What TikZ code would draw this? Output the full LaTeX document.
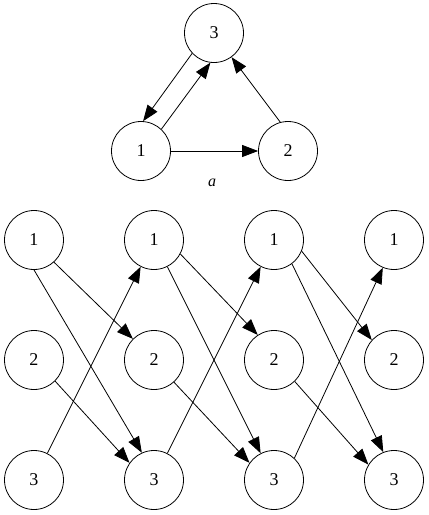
\documentclass[tikz,border=0pt]{standalone}
\usepackage{fontspec}
\setmainfont{Liberation Serif}
\usetikzlibrary{arrows.meta}
\begin{document}
\begin{tikzpicture}[x=1pt,y=-1pt,
  st/.style={circle,draw,line width=0.8pt,minimum size=59pt,inner sep=0pt,font=\fontsize{18}{18}\selectfont},
  arr/.style={line width=0.8pt,-{Triangle[length=16pt,width=12pt]}}]
\useasboundingbox (0,0) rectangle (429,515);
% top graph
\node[st] (t3) at (214,33) {3};
\node[st] (t1) at (141,151) {1};
\node[st] (t2) at (288,151) {2};
\node (lab) at (212,183) {\fontsize{16}{16}\selectfont\itshape a};
\draw[arr] (t3.223) -- (t1.86);
\draw[arr] (t1.47) -- (t3.-97);
\draw[arr] (t1) -- (t2);
\draw[arr] (t2.105) -- (t3.-54);
% bottom graph
\foreach \c/\x in {a/34,b/154,c/274,d/394}{
  \node[st] (\c1) at (\x,240) {1};
  \node[st] (\c2) at (\x,360) {2};
  \node[st] (\c3) at (\x,480) {3};
}
\draw[arr] (a1.-48) -- (b2.135);
\draw[arr] (a1.-90) -- (b3.114);
\draw[arr] (a2.-45) -- (b3.145);
\draw[arr] (a3) -- (b1);
\draw[arr] (b1.-28) -- (c2.123);
\draw[arr] (b1) -- (c3);
\draw[arr] (b2.-48) -- (c3.145);
\draw[arr] (b3) -- (c1);
\draw[arr] (c1.-22) -- (d2.138);
\draw[arr] (c1.-53) -- (d3.111);
\draw[arr] (c2.-46) -- (d3.149);
\draw[arr] (c3.47) -- (d1.-112);
\end{tikzpicture}
\end{document}
